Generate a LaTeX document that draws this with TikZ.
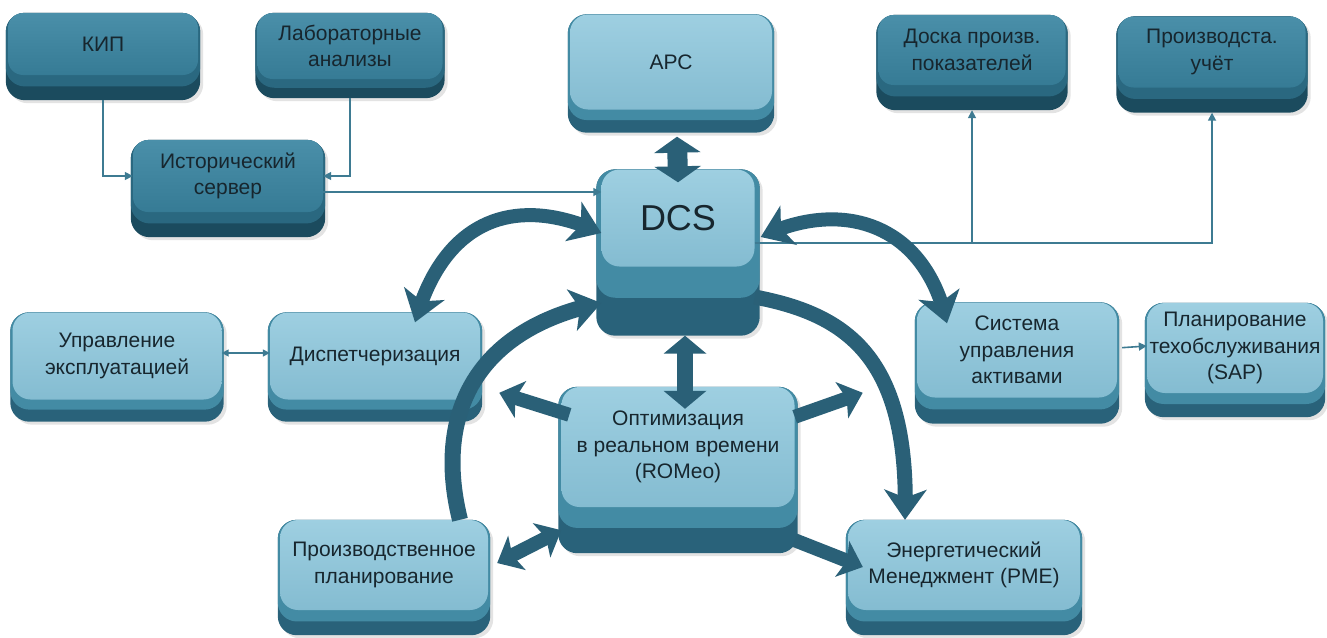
\documentclass[tikz,border=0pt]{standalone}
\usepackage{fontspec}
\setmainfont{Liberation Sans}
\usetikzlibrary{arrows.meta,bending,shadows}
\pgfdeclarelayer{background}
\pgfsetlayers{background,main}
\definecolor{lightTop}{HTML}{9ECFE1}
\definecolor{lightBot}{HTML}{84BCD1}
\definecolor{lightBaseA}{HTML}{438BA4}
\definecolor{lightBaseB}{HTML}{29627A}
\definecolor{darkTop}{HTML}{4A8FA9}
\definecolor{darkBot}{HTML}{367B95}
\definecolor{darkBaseA}{HTML}{2A6880}
\definecolor{darkBaseB}{HTML}{1B4B5E}
\definecolor{arrowc}{HTML}{2A6077}
\definecolor{thinc}{HTML}{3E7B92}
\definecolor{txt}{HTML}{17262E}
\tikzset{
  face/.style={rounded corners=18pt, inner sep=0pt, align=center,
    font=\fontsize{21}{26.5}\selectfont, text=txt},
  lightface/.style={face, top color=lightTop, bottom color=lightBot},
  darkface/.style={face, rounded corners=15pt, top color=darkTop, bottom color=darkBot},
  thinline/.style={draw=thinc, line width=1.6pt},
  thinarrow/.style={thinline, -{Triangle[length=8pt,width=8pt]}},
  thindouble/.style={thinline, {Triangle[length=7pt,width=7pt]}-{Triangle[length=7pt,width=7pt]}},
  bigband/.style={draw=arrowc, line width=14pt},
  bigtip/.tip={Stealth[length=30pt,width=42pt,inset=8pt]},
  midtip/.tip={Stealth[length=22pt,width=38pt,inset=5pt]},
  vtip/.tip={Triangle[length=16pt,width=46pt]},
}
\newcommand\keybase[5]{%
  \fill[#5, rounded corners=19pt, drop shadow={opacity=0.22, shadow xshift=3pt, shadow yshift=-3pt}]
    ([xshift=-#3]#1.north west) rectangle ([xshift=#3,yshift=-#2]#1.south east);
  \fill[#4, rounded corners=19pt]
    ([xshift=-#3]#1.north west) rectangle ([xshift=#3,yshift=-0.45*#2]#1.south east);
}
\begin{document}
\begin{tikzpicture}[x=1pt,y=-1pt]
\useasboundingbox (0,0) rectangle (1327,637);

% faces
\node[darkface, minimum width=190pt, minimum height=62pt] (kip) at (103,44) {КИП};
\node[darkface, minimum width=185pt, minimum height=66pt] (lab) at (350,46) {Лабораторные\\анализы};
\node[darkface, minimum width=190pt, minimum height=72pt] (hist) at (228,176) {Исторический\\сервер};
\node[lightface, minimum width=202pt, minimum height=95pt] (apc) at (671,62) {АРС};
\node[lightface, minimum width=153pt, minimum height=97pt, font=\fontsize{36}{40}\selectfont] (dcs) at (678,218) {DCS};
\node[darkface, minimum width=187pt, minimum height=70pt] (board) at (972,50) {Доска произв.\\показателей};
\node[darkface, minimum width=187pt, minimum height=71pt] (acc) at (1212,52) {Производста.\\учёт};
\node[lightface, minimum width=209pt, minimum height=87pt] (upr) at (117,356) {Управление\\эксплуатацией};
\node[lightface, minimum width=210pt, minimum height=87pt] (disp) at (375,356) {Диспетчеризация};
\node[lightface, minimum width=208pt, minimum height=90pt] (plan) at (384,565) {Производственное\\планирование};
\node[lightface, minimum width=233pt, minimum height=120pt] (rom) at (678,447) {Оптимизация\\в реальном времени\\(ROMeo)};
\node[lightface, minimum width=200pt, minimum height=95pt] (sys) at (1017,350) {Система\\управления\\активами};
\node[lightface, minimum width=176pt, minimum height=90pt] (sap) at (1235,348) {Планирование\\техобслуживания\\(SAP)};
\node[lightface, minimum width=232pt, minimum height=90pt] (pme) at (964,565) {Энергетический\\Менеджмент (PME)};

% bases
\begin{pgfonlayer}{background}
\fill[white] (0,0) rectangle (1327,637);
\keybase{kip}{25pt}{2pt}{darkBaseA}{darkBaseB}
\keybase{lab}{19pt}{2pt}{darkBaseA}{darkBaseB}
\keybase{hist}{25pt}{2pt}{darkBaseA}{darkBaseB}
\keybase{board}{25pt}{2pt}{darkBaseA}{darkBaseB}
\keybase{acc}{25pt}{2pt}{darkBaseA}{darkBaseB}
\keybase{apc}{23pt}{2pt}{lightBaseA}{lightBaseB}
\keybase{dcs}{69pt}{5pt}{lightBaseA}{lightBaseB}
\keybase{upr}{22pt}{2pt}{lightBaseA}{lightBaseB}
\keybase{disp}{22pt}{2pt}{lightBaseA}{lightBaseB}
\keybase{plan}{25pt}{2pt}{lightBaseA}{lightBaseB}
\keybase{rom}{46pt}{3pt}{lightBaseA}{lightBaseB}
\keybase{sys}{26pt}{2pt}{lightBaseA}{lightBaseB}
\keybase{sap}{24pt}{2pt}{lightBaseA}{lightBaseB}
\keybase{pme}{25pt}{2pt}{lightBaseA}{lightBaseB}
\end{pgfonlayer}

% thin connectors
\draw[thinarrow] ([yshift=-25pt]kip.south) |- (hist.west);
\draw[thinarrow] ([yshift=-19pt]lab.south) |- (hist.east);
\draw[thinarrow] ([yshift=-16pt]hist.east) -- ([yshift=-16pt]hist.east -| dcs.west);
\coordinate (busR) at ([yshift=-25pt]dcs.east);
\draw[thinarrow] (busR) -| ([yshift=-25pt]acc.south);
\draw[thinarrow] (board.south |- busR) -- ([yshift=-25pt]board.south);
\draw[thindouble] ([yshift=3pt]upr.east) -- ([yshift=3pt]disp.west);
\draw[thinarrow, shorten <=5pt] ([yshift=2pt]sys.east) -- ([yshift=2pt]sap.west);

% thick straight arrows
\draw[draw=arrowc, line width=20pt, {vtip}-{vtip}] ([xshift=6pt,yshift=-27pt]apc.south) -- ([yshift=-13pt]dcs.north);
\draw[draw=arrowc, line width=16pt, {Triangle[length=18pt,width=42pt]}-{Triangle[length=18pt,width=42pt]}]
  ([xshift=7pt,yshift=-69pt]dcs.south) -- ([xshift=7pt,yshift=-22pt]rom.north);
\draw[draw=arrowc, line width=14pt, -{midtip}] ([xshift=8pt,yshift=-28pt]rom.north west) -- ([xshift=-62pt,yshift=-6pt]rom.north west);
\draw[draw=arrowc, line width=14pt, -{midtip}] ([yshift=-30pt]rom.north east) -- ([xshift=68pt,yshift=-6pt]rom.north east);
\draw[draw=arrowc, line width=14pt, {midtip}-{midtip}] ([yshift=-23pt]rom.south west) -- ([xshift=9pt,yshift=2pt]plan.east);
\draw[draw=arrowc, line width=14pt, -{midtip}] ([yshift=-33pt]rom.south east) -- ([xshift=15pt,yshift=-2pt]pme.west);

% big curved arrows
\draw[bigband, {bigtip}-{bigtip}] ([yshift=-15pt]dcs.west) .. controls +(-81,-38) and +(30,-108) .. ([xshift=40pt,yshift=-10pt]disp.north);
\draw[bigband, line width=16pt, -{bigtip}] ([xshift=76pt]plan.north) .. controls +(-25,-100) and +(-131,27) .. ([yshift=-85pt]dcs.west);
\draw[bigband, line width=15pt, -{bigtip}] ([yshift=-79pt]dcs.east) .. controls +(95,18) and +(5,-160) .. ([xshift=-59pt]pme.north);
\draw[bigband, {bigtip}-{bigtip}] ([xshift=6pt,yshift=-19pt]dcs.east) .. controls +(80,-39) and +(-22,-101) .. ([xshift=-70pt,yshift=-21pt]sys.north);
\end{tikzpicture}
\end{document}
